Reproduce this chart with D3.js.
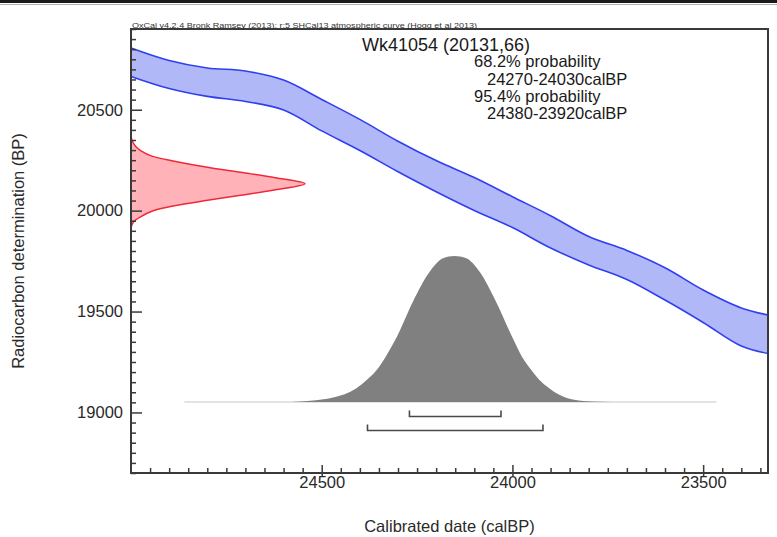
<!DOCTYPE html>
<html>
<head>
<meta charset="utf-8">
<script src="https://cdn.jsdelivr.net/npm/d3@7"></script>
<style>
	body { margin: 0; background: #fff; }
	svg { display: block; font-family: "Liberation Sans", Arial, Helvetica, sans-serif; }
</style>
</head>
<body>
<svg id="chart" width="777" height="537"></svg>
<script>
// calibration curve band (SHCal13)
const curveCal = [25000, 24900, 24800, 24700, 24600, 24500, 24400, 24300, 24200, 24100, 24000, 23900, 23800, 23700, 23600, 23500, 23400, 23330]
const curveUpper = [20806, 20744, 20707, 20692, 20647, 20551, 20452, 20344, 20248, 20164, 20069, 19975, 19872, 19803, 19717, 19607, 19518, 19483]
const curveLower = [20665, 20605, 20566, 20541, 20499, 20395, 20298, 20193, 20094, 20001, 19916, 19815, 19731, 19659, 19557, 19446, 19329, 19292]

// measured radiocarbon date (red), relative density
const dateBP = [20365, 20340, 20315, 20295, 20270, 20245, 20215, 20190, 20163, 20133, 20103, 20076, 20051, 20024, 19997, 19972, 19945, 19915]
const dateDensity = [0, 0.01, 0.03, 0.06, 0.12, 0.25, 0.44, 0.63, 0.83, 1, 0.83, 0.63, 0.44, 0.25, 0.12, 0.06, 0.015, 0]

// calibrated distribution (grey), relative density
const calDate = [24580, 24530, 24470, 24410, 24380, 24357, 24330, 24305, 24261, 24217, 24182, 24152, 24121, 24086, 24043, 23999, 23975, 23947, 23925, 23903, 23877, 23838, 23790, 23740]
const calDensity = [0, 0.008, 0.03, 0.093, 0.155, 0.215, 0.32, 0.436, 0.687, 0.892, 0.984, 1, 0.984, 0.892, 0.687, 0.436, 0.31, 0.208, 0.14, 0.093, 0.05, 0.015, 0.003, 0]
const calExtent = [24860, 23465]

// probability ranges
const rangeFrom = [24270, 24380]
const rangeTo = [24030, 23920]

const xMajor = [24500, 24000, 23500]
const yMajor = [19000, 19500, 20000, 20500]

const header = "OxCal v4.2.4 Bronk Ramsey (2013); r:5 SHCal13 atmospheric curve (Hogg et al 2013)"
const sampleName = "Wk41054 (20131,66)"
const summaryLines = ["68.2% probability", "24270-24030calBP", "95.4% probability", "24380-23920calBP"]

const svg = d3.select("#chart")
const plotLeft = 131, plotRight = 768, plotTop = 29, plotBottom = 473
const axisColor = "#3a3a3a"
const fontSize = 16.5

const x = d3.scaleLinear().domain([25000, 23330]).range([plotLeft, plotRight])
const y = d3.scaleLinear().domain([18700, 20900]).range([plotBottom, plotTop])

// screenshot edge at top
svg.append("rect").attr("x", 0).attr("y", 0).attr("width", 777).attr("height", 3).attr("fill", "#1a1a1a")
svg.append("line").attr("x1", 0).attr("x2", 777).attr("y1", 4.5).attr("y2", 4.5).attr("stroke", "#b0b0b0").attr("stroke-width", 1)

// calibration band
const band = curveCal.map((c, i) => ({ cal: c, hi: curveUpper[i], lo: curveLower[i] }))
svg.append("path")
	.datum(band)
	.attr("fill", "#b1b8f8")
	.attr("d", d3.area().curve(d3.curveCatmullRom).x(d => x(d.cal)).y0(d => y(d.lo)).y1(d => y(d.hi)))
;["hi", "lo"].forEach(k => {
	svg.append("path")
		.datum(band)
		.attr("fill", "none")
		.attr("stroke", "#2f3ff0")
		.attr("stroke-width", 1.6)
		.attr("d", d3.line().curve(d3.curveCatmullRom).x(d => x(d.cal)).y(d => y(d[k])))
})

// red distribution on the radiocarbon axis
const redWidth = 174
const rx = d3.scaleLinear().domain([0, 1]).range([plotLeft, plotLeft + redWidth])
const red = dateBP.map((b, i) => ({ bp: b, v: dateDensity[i] }))
svg.append("path")
	.datum(red)
	.attr("fill", "#ffb3b9")
	.attr("stroke", "#f0283a")
	.attr("stroke-width", 1.5)
	.attr("d", d3.area().curve(d3.curveCatmullRom).y(d => y(d.bp)).x0(plotLeft).x1(d => rx(d.v)))

// calibrated distribution
const baseY = 402
const dy = d3.scaleLinear().domain([0, 1]).range([baseY, baseY - 146])
svg.append("line")
	.attr("x1", x(calExtent[0])).attr("x2", x(calExtent[1]))
	.attr("y1", baseY).attr("y2", baseY)
	.attr("stroke", "#e3e3e3").attr("stroke-width", 2)
const grey = calDate.map((c, i) => ({ cal: c, v: calDensity[i] }))
svg.append("path")
	.datum(grey)
	.attr("fill", "#808080")
	.attr("d", d3.area().curve(d3.curveMonotoneX).x(d => x(d.cal)).y0(baseY).y1(d => dy(d.v)))

// range brackets
const bracketY = [416.5, 430.5]
svg.append("g")
	.selectAll("path")
	.data(rangeFrom.map((f, i) => ({ from: f, to: rangeTo[i], yy: bracketY[i] })))
	.join("path")
	.attr("fill", "none")
	.attr("stroke", "#4a4a4a")
	.attr("stroke-width", 1.6)
	.attr("d", d => `M${x(d.from)},${d.yy - 6}V${d.yy}H${x(d.to)}V${d.yy - 6}`)

// axes
const yMinor = d3.range(18700, 20901, 50).filter(v => v % 500 !== 0)
const xMinor = d3.range(23350, 25001, 50).filter(v => v % 500 !== 0)

const gyMinor = svg.append("g").attr("transform", `translate(${plotLeft},0)`)
	.call(d3.axisLeft(y).tickValues(yMinor).tickSize(-5).tickFormat(""))
const gy = svg.append("g").attr("transform", `translate(${plotLeft},0)`)
	.call(d3.axisLeft(y).tickValues(yMajor).tickSize(-11).tickPadding(8).tickFormat(d3.format("d")))
const gxMinor = svg.append("g").attr("transform", `translate(0,${plotBottom})`)
	.call(d3.axisBottom(x).tickValues(xMinor).tickSize(-5).tickFormat(""))
const gx = svg.append("g").attr("transform", `translate(0,${plotBottom})`)
	.call(d3.axisBottom(x).tickValues(xMajor).tickSize(-8).tickPadding(3).tickFormat(d3.format("d")))
gx.selectAll(".tick line").attr("y1", 3)

;[gyMinor, gy, gxMinor, gx].forEach(g => {
	g.select(".domain").remove()
	g.attr("font-size", fontSize).attr("font-family", null)
	g.selectAll(".tick line").attr("stroke", axisColor).attr("stroke-width", 1.5)
	g.selectAll(".tick text").attr("fill", "#2a2a2a")
})

// frame
svg.append("rect")
	.attr("x", plotLeft).attr("y", plotTop)
	.attr("width", plotRight - plotLeft).attr("height", plotBottom - plotTop)
	.attr("fill", "none").attr("stroke", axisColor).attr("stroke-width", 2)

// labels
svg.append("text")
	.attr("x", (plotLeft + plotRight) / 2).attr("y", 532)
	.attr("text-anchor", "middle").attr("font-size", fontSize).attr("fill", "#2a2a2a")
	.text("Calibrated date (calBP)")
svg.append("text")
	.attr("transform", `translate(24,${(plotTop + plotBottom) / 2}) rotate(-90)`)
	.attr("text-anchor", "middle").attr("font-size", fontSize).attr("fill", "#2a2a2a")
	.text("Radiocarbon determination (BP)")

svg.append("text")
	.attr("x", 132).attr("y", 27.5)
	.attr("font-size", 8).attr("fill", "#333")
	.attr("textLength", 345).attr("lengthAdjust", "spacingAndGlyphs")
	.text(header)

svg.append("text")
	.attr("x", 362).attr("y", 51)
	.attr("font-size", 18).attr("fill", "#1a1a1a")
	.text(sampleName)

const lineX = [474, 487, 474, 487]
const lineY = [67, 85, 102, 119]
svg.append("g")
	.selectAll("text")
	.data(summaryLines)
	.join("text")
	.attr("x", (d, i) => lineX[i]).attr("y", (d, i) => lineY[i])
	.attr("font-size", fontSize).attr("fill", "#1a1a1a")
	.text(d => d)
</script>
</body>
</html>
